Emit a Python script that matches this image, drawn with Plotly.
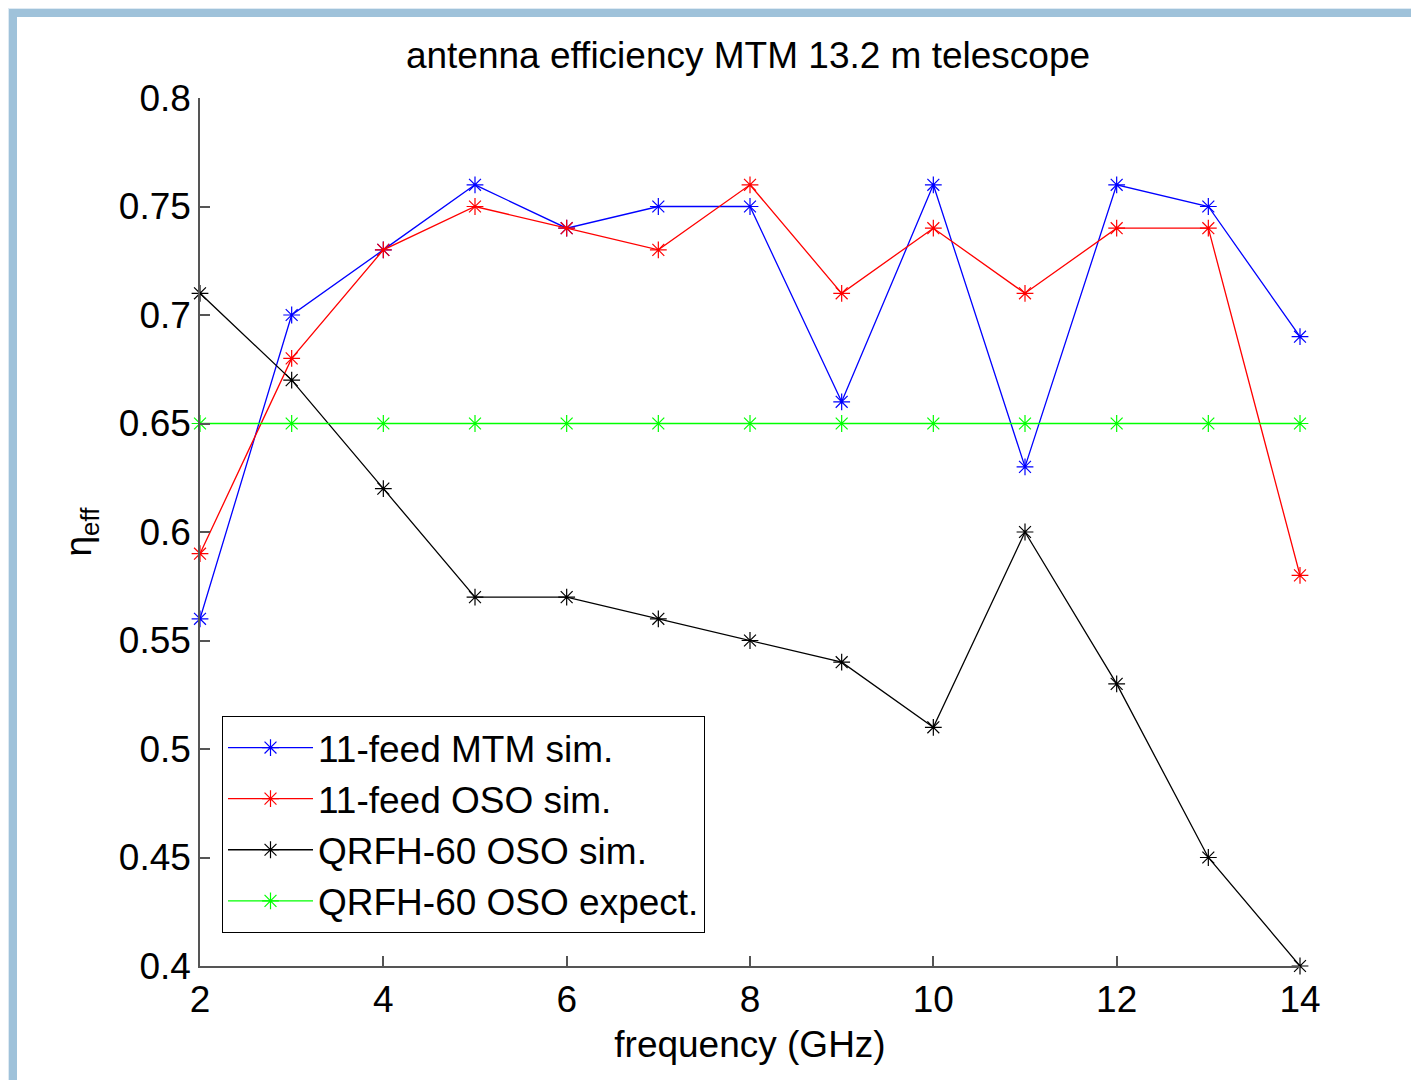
import plotly.graph_objects as go

freq = [2, 3, 4, 5, 6, 7, 8, 9, 10, 11, 12, 13, 14]
mtm_sim = [0.56, 0.70, 0.73, 0.76, 0.74, 0.75, 0.75, 0.66, 0.76, 0.63, 0.76, 0.75, 0.69]
oso_sim = [0.59, 0.68, 0.73, 0.75, 0.74, 0.73, 0.76, 0.71, 0.74, 0.71, 0.74, 0.74, 0.58]
qrfh_sim = [0.71, 0.67, 0.62, 0.57, 0.57, 0.56, 0.55, 0.54, 0.51, 0.60, 0.53, 0.45, 0.40]
qrfh_expect = [0.65] * 13

series = [
    ("11-feed MTM sim.", mtm_sim, "#0000ff"),
    ("11-feed OSO sim.", oso_sim, "#ff0000"),
    ("QRFH-60 OSO sim.", qrfh_sim, "#000000"),
    ("QRFH-60 OSO expect.", qrfh_expect, "#00ff00"),
]

FONT = "Liberation Sans, Arial, Helvetica, sans-serif"
OFF = 8  # page body margin
W, H = 1419, 1080
L, T = 200 - OFF, 98 - OFF
pw, ph = 1100, 868
R = W - L - pw
B = H - T - ph

def px(sx):
    return (sx - OFF - L) / pw

def py(sy):
    return (T + ph - (sy - OFF)) / ph

fig = go.Figure()
for i, (name, vals, col) in enumerate(series):
    fig.add_trace(go.Scatter(
        x=freq, y=vals, name=name, mode="lines+markers",
        line=dict(color=col, width=1.3),
        marker=dict(symbol="asterisk-open", size=14, color=col,
                    line=dict(color=col, width=1.2)),
        cliponaxis=False, legendgroup=str(i),
    ))

axis_common = dict(
    showgrid=False, zeroline=False, showline=True, linecolor="#555555",
    linewidth=1.5, ticks="inside", ticklen=10, tickwidth=1.5, tickcolor="#555555",
    tickfont=dict(family=FONT, size=37, color="#000000"), mirror=False,
)

fig.update_layout(
    width=W, height=H,
    margin=dict(l=L, r=R, t=T, b=B),
    paper_bgcolor="white", plot_bgcolor="white",
    title=dict(text="antenna efficiency MTM 13.2 m telescope",
               font=dict(family=FONT, size=37, color="#000000"),
               xref="container", x=(748 - OFF) / W, xanchor="center",
               yref="container", y=1 - (55 - OFF) / H, yanchor="middle"),
    xaxis=dict(range=[2, 14], tickvals=[2, 4, 6, 8, 10, 12, 14],
               title=dict(text="frequency (GHz)", font=dict(family=FONT, size=37, color="#000000"),
                          standoff=12),
               **axis_common),
    yaxis=dict(range=[0.4, 0.8], tickvals=[0.4, 0.45, 0.5, 0.55, 0.6, 0.65, 0.7, 0.75, 0.8],
               ticktext=["0.4", "0.45", "0.5", "0.55", "0.6", "0.65", "0.7", "0.75", "0.8"],
               title=dict(text="η<sub>eff</sub>", font=dict(family=FONT, size=37, color="#000000"),
                          standoff=16),
               **axis_common),
    showlegend=True,
    legend=dict(x=px(222), y=py(716), xanchor="left", yanchor="top",
                bgcolor="white", bordercolor="#000000", borderwidth=1,
                font=dict(family=FONT, size=37, color="#000000"),
                traceorder="grouped", tracegroupgap=0, itemwidth=85),
    shapes=[
        dict(type="rect", xref="paper", yref="paper", layer="above",
             x0=px(9), x1=px(1600), y0=py(9), y1=py(1300),
             line=dict(color="rgba(160,195,220,0.35)", width=12), fillcolor="rgba(0,0,0,0)"),
        dict(type="rect", xref="paper", yref="paper", layer="above",
             x0=px(13), x1=px(1600), y0=py(13), y1=py(1300),
             line=dict(color="#9fc2da", width=8), fillcolor="rgba(0,0,0,0)"),
    ],
)

fig.write_html("out.html")
